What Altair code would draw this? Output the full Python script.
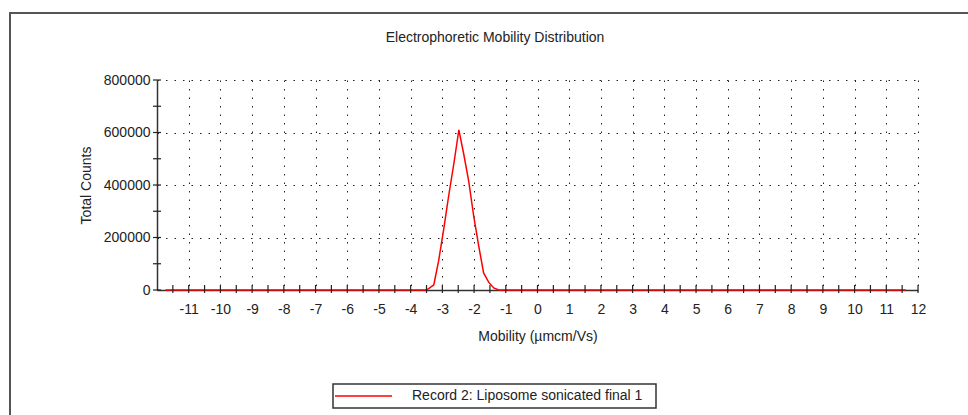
import altair as alt
import pandas as pd

# ---- data ----
mobility = [-11.73, -3.53, -3.43, -3.27, -3.12, -2.96, -2.80, -2.64, -2.48,
            -2.33, -2.17, -2.01, -1.85, -1.70, -1.54, -1.38, -1.22, 11.62]
counts = [0, 0, 5000, 20000, 110000, 230000, 360000, 480000, 610000,
          520000, 415000, 280000, 165000, 65000, 30000, 8000, 0, 0]
series_name = "Record 2: Liposome sonicated final 1"
chart_title = "Electrophoretic Mobility Distribution"
x_title = "Mobility (µmcm/Vs)"
y_title = "Total Counts"
x_label_values = list(range(-11, 13))
y_label_values = [0, 200000, 400000, 600000, 800000]
x_tick_values = [v / 2 for v in range(-23, 25)]
y_tick_values = [i * 100000 for i in range(9)]

W, H = 761, 210
FONT = "Liberation Sans"
TXT = "#222222"

df = pd.DataFrame({"mobility": mobility, "counts": counts, "series": series_name})
xt = pd.DataFrame({"mobility": x_tick_values})
yt = pd.DataFrame({"counts": y_tick_values})
one = pd.DataFrame({"label": [chart_title]})
leg = pd.DataFrame({"label": [series_name]})

xscale = alt.Scale(domain=[-12, 12], nice=False, zero=False)
yscale = alt.Scale(domain=[0, 800000], nice=False)

xaxis = alt.Axis(values=x_label_values, title=x_title, grid=True, gridDash=[1.5, 7],
                 gridColor="#222222", gridWidth=1, tickSize=0, labelPadding=12,
                 domainColor="#333333", domainWidth=1.5, labelFontSize=14,
                 titleFontSize=14, titleFontWeight="normal", labelFont=FONT,
                 titleFont=FONT, titlePadding=13, labelColor=TXT, titleColor=TXT,
                 labelExpr="toString(datum.value)", labelOverlap=False,
                 labelFlush=False)
yaxis = alt.Axis(values=y_label_values, title=y_title, grid=True, gridDash=[1.5, 7],
                 gridColor="#222222", gridWidth=1, tickSize=0, labelPadding=7,
                 domainColor="#333333", domainWidth=1.5, labelFontSize=14,
                 titleFontSize=14, titleFontWeight="normal", labelFont=FONT,
                 titleFont=FONT, titlePadding=10, labelColor=TXT, titleColor=TXT,
                 labelExpr="toString(datum.value)", labelOverlap=False,
                 labelFlush=False)

frame = alt.Chart(one).mark_rect(fillOpacity=0, stroke="#555555", strokeWidth=2).encode(
    x=alt.value(-147), x2=alt.value(840), y=alt.value(-67), y2=alt.value(360))

line = alt.Chart(df).mark_line(color="#ff0000", strokeWidth=1.5).encode(
    x=alt.X("mobility:Q", scale=xscale, axis=xaxis),
    y=alt.Y("counts:Q", scale=yscale, axis=yaxis),
)

xticks = alt.Chart(xt).mark_rule(color="#222222", strokeWidth=1.2).encode(
    x=alt.X("mobility:Q", scale=xscale, axis=xaxis), y=alt.value(H - 5), y2=alt.value(H + 3))
yticks = alt.Chart(yt).mark_rule(color="#222222", strokeWidth=1.2).encode(
    y=alt.Y("counts:Q", scale=yscale, axis=yaxis), x=alt.value(-4), x2=alt.value(4))

title = alt.Chart(one).mark_text(fontSize=14, font=FONT, color=TXT, align="center",
                                 baseline="middle").encode(
    text="label:N", x=alt.value(338), y=alt.value(-42))

leg_box = alt.Chart(leg).mark_rect(fill="white", stroke="#333333", strokeWidth=1.5).encode(
    x=alt.value(176), x2=alt.value(499), y=alt.value(304), y2=alt.value(328))
leg_line = alt.Chart(leg).mark_rule(color="#ff0000", strokeWidth=1.5).encode(
    x=alt.value(178), x2=alt.value(235), y=alt.value(316))
leg_text = alt.Chart(leg).mark_text(fontSize=14, font=FONT, color=TXT, align="left",
                                    baseline="middle").encode(
    text="label:N", x=alt.value(255), y=alt.value(316))

chart = alt.layer(frame, line, xticks, yticks, title, leg_box, leg_line, leg_text).properties(
    width=W, height=H,
    autosize=alt.AutoSizeParams(type="none"),
    padding={"left": 157, "top": 80, "right": 50, "bottom": 125},
    background="white",
).configure_view(strokeWidth=0)

chart.save("out.html", embed_options={"renderer": "svg", "actions": False})
